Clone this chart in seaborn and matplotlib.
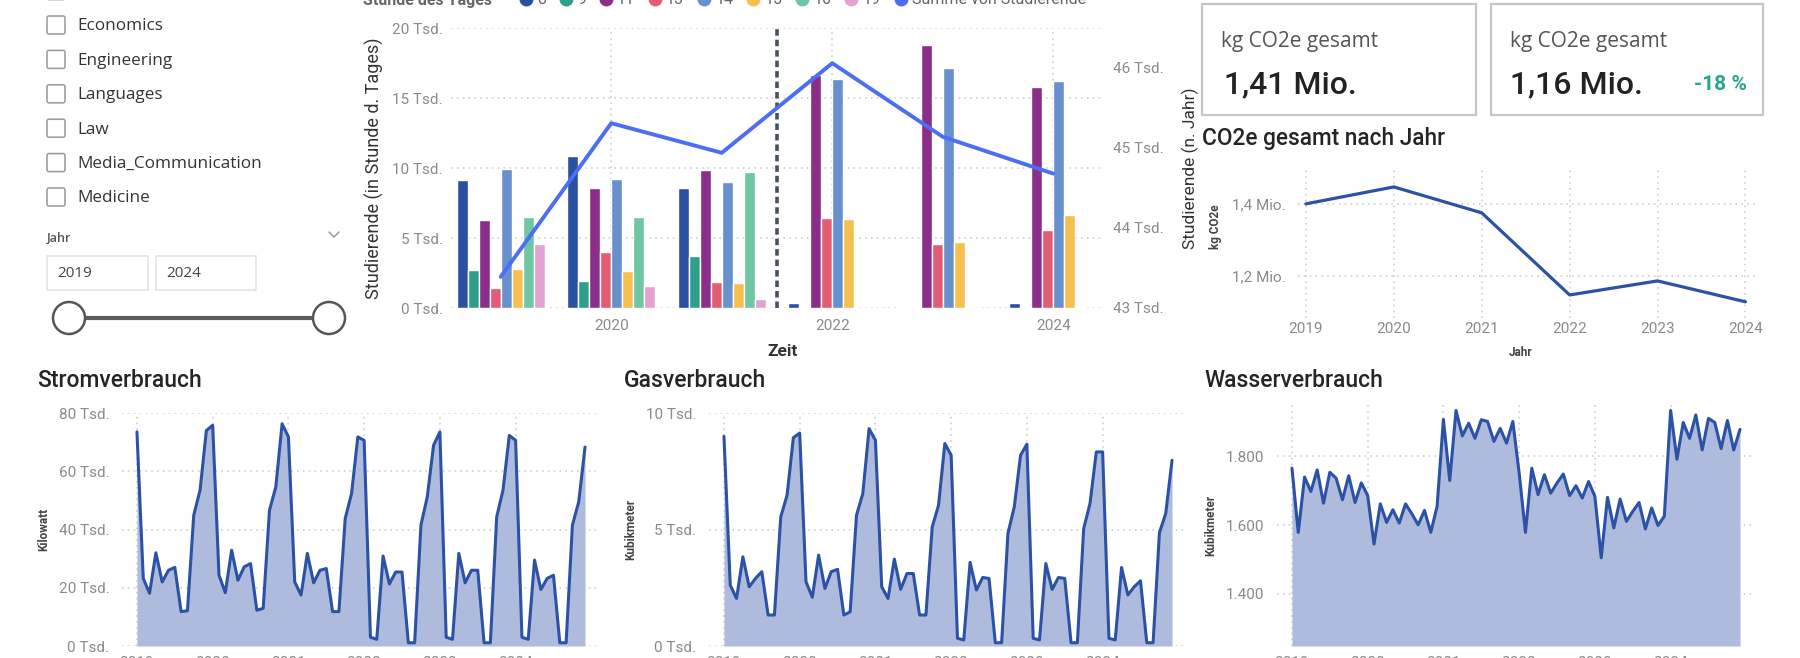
import matplotlib
matplotlib.use("Agg")
import matplotlib.pyplot as plt
import matplotlib.patches as mpatches
from matplotlib.lines import Line2D
from matplotlib.transforms import IdentityTransform
from matplotlib import font_manager
from matplotlib.ticker import FuncFormatter
import seaborn as sns
import pandas as pd
import numpy as np

# ---------------- Daten ----------------
faecher = ['Computer_Science', 'Economics', 'Engineering', 'Languages', 'Law',
           'Media_Communication', 'Medicine']
jahr_von, jahr_bis = '2019', '2024'

jahre = [2019, 2020, 2021, 2022, 2023, 2024]
stunden = ['8', '9', '11', '13', '14', '15', '16', '19']

# Studierende je Stunde des Tages (Tsd.)
stunde_08 = [9.17, 10.88, 8.55, 0.36, 0.10, 0.36]
stunde_09 = [2.74, 1.95, 3.74, 0.08, 0.05, 0.08]
stunde_11 = [6.31, 8.57, 9.83, 16.67, 18.76, 15.76]
stunde_13 = [1.43, 4.00, 1.86, 6.43, 4.60, 5.60]
stunde_14 = [9.95, 9.21, 9.00, 16.36, 17.14, 16.24]
stunde_15 = [2.79, 2.67, 1.79, 6.36, 4.69, 6.62]
stunde_16 = [6.50, 6.50, 9.71, 0.00, 0.10, 0.10]
stunde_19 = [4.57, 1.60, 0.64, 0.00, 0.00, 0.00]

# Summe Studierende pro Jahr (Tsd.)
studierende_jahr = [43.39, 45.31, 44.94, 46.06, 45.14, 44.68]

# CO2e gesamt (Mio. kg)
co2_jahr = [1.400, 1.447, 1.375, 1.147, 1.186, 1.128]
kpi_links, kpi_rechts, kpi_delta = '1,41 Mio.', '1,16 Mio.', '-18 %'

# Monatswerte Jan 2019 - Dez 2024
strom = [73.5, 23.2, 18.1, 32.0, 22.0, 26.0, 27.0, 11.8, 12.1, 44.9, 53.5, 74.0,
         75.8, 24.3, 18.3, 32.9, 22.6, 27.2, 28.3, 12.3, 12.9, 46.6, 54.6, 76.3,
         71.8, 22.0, 17.5, 31.8, 21.7, 26.0, 26.6, 11.8, 11.8, 43.8, 52.3, 71.8,
         70.6, 3.0, 2.3, 30.9, 21.3, 25.4, 25.4, 1.1, 1.1, 41.5, 51.2, 68.9,
         73.5, 3.0, 2.3, 31.8, 21.7, 26.0, 26.0, 1.1, 1.1, 44.3, 53.5, 72.3,
         70.6, 3.0, 2.3, 29.5, 19.4, 23.2, 24.3, 1.1, 1.1, 41.5, 49.5, 68.3]
gas = [9.00, 2.61, 2.04, 3.83, 2.54, 2.90, 3.19, 1.33, 1.33, 5.54, 6.47, 8.94,
       9.14, 2.76, 2.09, 3.90, 2.47, 3.19, 3.29, 1.33, 1.47, 5.61, 6.54, 9.33,
       8.83, 2.54, 2.04, 3.73, 2.43, 3.11, 3.11, 1.33, 1.33, 5.11, 6.04, 8.69,
       8.19, 0.33, 0.26, 3.59, 2.40, 2.94, 2.90, 0.14, 0.14, 4.83, 5.97, 8.19,
       8.66, 0.33, 0.26, 3.54, 2.43, 2.94, 2.90, 0.14, 0.14, 5.04, 6.11, 8.33,
       8.33, 0.33, 0.26, 3.37, 2.19, 2.54, 2.80, 0.14, 0.14, 4.86, 5.69, 7.97]
wasser = [1766, 1579, 1740, 1698, 1761, 1664, 1754, 1737, 1674, 1744, 1666, 1723,
          1686, 1545, 1662, 1608, 1645, 1606, 1662, 1633, 1601, 1643, 1579, 1655,
          1908, 1730, 1934, 1860, 1897, 1853, 1907, 1902, 1844, 1882, 1839, 1902,
          1752, 1579, 1766, 1689, 1747, 1693, 1723, 1749, 1686, 1715, 1679, 1727,
          1684, 1505, 1681, 1592, 1676, 1611, 1640, 1666, 1589, 1650, 1599, 1626,
          1934, 1792, 1899, 1853, 1921, 1819, 1911, 1899, 1823, 1905, 1819, 1879]
monate = pd.date_range('2019-01-01', '2024-12-01', freq='MS')

# ---------------- Stil ----------------
sns.set_theme(style='white')
verfuegbar = {f.name for f in font_manager.fontManager.ttflist}


def waehle(*namen):
    for n in namen:
        if n in verfuegbar:
            return n
    return 'DejaVu Sans'


SCHMAL = waehle('Liberation Sans Narrow', 'Roboto')
TITEL = waehle('Roboto', 'Lato')
UI = waehle('Open Sans', 'Noto Sans')
plt.rcParams['font.family'] = [SCHMAL, 'DejaVu Sans']

farben_stunden = ['#2b50a0', '#2e9f8a', '#8b2e88', '#e25c74',
                  '#6790cc', '#f6c050', '#6ec6a2', '#e3a2d2']
linie_summe = '#4c6ef5'
linie = '#2c52a6'
fuellung = '#aebbdd'
grau_tick = '#8a8a8a'
raster = dict(color='#d0d0d0', ls=(0, (1, 2.5)), lw=1.2)

W, H = 1800, 658
PIX = IdentityTransform()
fig = plt.figure(figsize=(W / 100, H / 100), dpi=100)
fig.patch.set_facecolor('white')


def achse(l, t, r, b):
    return fig.add_axes([l / W, 1 - b / H, (r - l) / W, (b - t) / H])


def text(x, y, s, **kw):
    kw.setdefault('va', 'center')
    return fig.text(x / W, 1 - y / H, s, **kw)


def kasten(x0, y0, x1, y1, **kw):
    fig.add_artist(mpatches.FancyBboxPatch((x0, H - y1), x1 - x0, y1 - y0,
                                           transform=PIX, **kw))


def ohne_rahmen(ax):
    for s in ax.spines.values():
        s.set_visible(False)
    ax.tick_params(length=0, colors=grau_tick, labelsize=11)


tsd = FuncFormatter(lambda v, p: f'{v:.0f} Tsd.')

# ---------------- Slicer links ----------------
for i, fach in enumerate(faecher):
    y = 25 + (i - 1) * 34.4
    kasten(47, y - 9, 65, y + 9, boxstyle='round,pad=0,rounding_size=2',
           fc='white', ec='#a0a0a0', lw=1.2)
    text(77, y + 1.5, fach, fontsize=12.3, color='#333333', family=UI)

text(47, 238, 'Jahr', fontsize=9, color='#555555', family=UI, fontweight='semibold')
fig.add_artist(Line2D([329, 334, 339], [H - 232, H - 237, H - 232], transform=PIX,
                      color='#9a9a9a', lw=1.1))
for x0, x1, s in [(47, 148, jahr_von), (156, 256, jahr_bis)]:
    kasten(x0, 256, x1, 290, boxstyle='square,pad=0', fc='white', ec='#e4e4e4', lw=1.2)
    text(x0 + 10, 274, s, fontsize=11, color='#444444', family=UI)
fig.add_artist(Line2D([85, 313], [H - 318, H - 318], transform=PIX,
                      color='#5c5c5c', lw=3, zorder=1))
for cx in (69, 329):
    fig.add_artist(mpatches.Circle((cx, H - 318), 16, transform=PIX, fc='white',
                                   ec='#555555', lw=1.8, zorder=2))

# ---------------- Balken: Studierende je Stunde ----------------
reihen = [stunde_08, stunde_09, stunde_11, stunde_13,
          stunde_14, stunde_15, stunde_16, stunde_19]
df_bar = pd.DataFrame([(j, s, v) for s, r in zip(stunden, reihen)
                       for j, v in zip(jahre, r)],
                      columns=['Jahr', 'Stunde', 'Wert'])

ax = achse(451, 28, 1103, 308)
sns.barplot(data=df_bar, x='Jahr', y='Wert', hue='Stunde', hue_order=stunden,
            palette=farben_stunden, native_scale=True, width=0.8, gap=0,
            errorbar=None, saturation=1, legend=False, ax=ax)
ax.set_xlim(2018.55, 2024.45)
ax.set_ylim(0, 20)
ax.set_yticks([0, 5, 10, 15, 20])
ax.yaxis.set_major_formatter(tsd)
ax.set_xticks([2020, 2022, 2024])
ax.set_xticklabels(['2020', '2022', '2024'])
ax.grid(True, **raster)
ax.set_axisbelow(True)
ohne_rahmen(ax)
ax.tick_params(axis='y', pad=6)
ax.tick_params(axis='x', pad=8)
ax.axvline(2021.5, color='#465066', ls=(0, (1.8, 1.1)), lw=2.6, zorder=5)
ax.set_ylabel('Studierende (in Stunde d. Tages)', fontsize=13, color='#333333')
ax.yaxis.set_label_coords(-0.103, 0.5)
ax.set_xlabel('Zeit', fontsize=12.5, color='#333333', fontweight='bold')
ax.xaxis.set_label_coords(0.509, -0.13)

ax2 = ax.twinx()
sns.lineplot(x=jahre, y=studierende_jahr, ax=ax2, color=linie_summe, lw=2.8)
ax2.set_ylim(43, 46.5)
ax2.set_yticks([43, 44, 45, 46])
ax2.yaxis.set_major_formatter(tsd)
ohne_rahmen(ax2)
ax2.tick_params(axis='y', pad=7)
ax2.set_ylabel('Studierende (n. Jahr)', fontsize=12.5, color='#333333')
ax2.yaxis.set_label_coords(1.121, 0.5)

# Legende (oben abgeschnitten wie im Bericht)
text(363, 0, 'Stunde des Tages', fontsize=11.5, color='#666666', fontweight='bold')
griffe = [Line2D([], [], marker='o', ls='', ms=9, color=c) for c in farben_stunden]
griffe.append(Line2D([], [], marker='o', ls='', ms=9, color=linie_summe))
ax.legend(griffe, stunden + ['Summe von Studierende'], loc='center left',
          bbox_to_anchor=(520 / W, 1.0), bbox_transform=fig.transFigure,
          ncol=9, frameon=False, fontsize=11.5, handlelength=0.7,
          handletextpad=0.35, columnspacing=0.9, borderaxespad=0, borderpad=0,
          labelcolor='#666666')

# ---------------- KPI-Karten ----------------
for x0, x1 in [(1202, 1476), (1491, 1763)]:
    kasten(x0, 4, x1, 115, boxstyle='square,pad=0', fc='white', ec='#c6c6c6', lw=1.6)
    text(x0 + 19, 42, 'kg CO2e gesamt', fontsize=15, color='#555555', family=UI)
text(1224, 85, kpi_links, fontsize=23, color='#222222', fontweight='medium')
text(1510, 85, kpi_rechts, fontsize=23, color='#222222', fontweight='medium')
text(1747, 84, kpi_delta, fontsize=15, color='#27a58a', fontweight='bold', ha='right')

# ---------------- CO2e gesamt nach Jahr ----------------
text(1202, 138, 'CO2e gesamt nach Jahr', fontsize=16.3, color='#252525',
     family=TITEL, fontweight='medium')
axc = achse(1298, 170, 1756, 318)
sns.lineplot(x=jahre, y=co2_jahr, ax=axc, color=linie, lw=2.3)
axc.set_xlim(2018.91, 2024.12)
axc.set_ylim(1.083, 1.494)
axc.set_yticks([1.2, 1.4])
axc.yaxis.set_major_formatter(FuncFormatter(lambda v, p: f'{v:.1f} Mio.'.replace('.', ',', 1)))
axc.set_xticks(jahre)
axc.set_xticklabels([str(j) for j in jahre])
axc.grid(True, **raster)
ohne_rahmen(axc)
axc.tick_params(axis='y', pad=9)
axc.tick_params(axis='x', pad=3)
axc.set_ylabel('kg CO2e', fontsize=8.5, color='#444444', fontweight='bold')
axc.yaxis.set_label_coords(-0.166, 0.615)
axc.set_xlabel('Jahr', fontsize=8.5, color='#444444', fontweight='bold')
axc.xaxis.set_label_coords(0.487, -0.19)

# ---------------- Verbrauchs-Flaechen ----------------
x_monat = monate.year + (monate.month - 1) / 12


def flaeche(l, titel_x, titel, werte, ylim, yticks, fmt, ylabel, lab_x, oben=413):
    text(titel_x, 381, titel, fontsize=16.5, color='#252525',
         family=TITEL, fontweight='medium')
    a = achse(l, oben, l + 474, 646)
    sns.lineplot(x=x_monat, y=werte, ax=a, color=linie, lw=2.2)
    a.fill_between(x_monat, werte, ylim[0], color=fuellung, lw=0)
    a.set_xlim(2019 - 15 / 76, 2024 + 11 / 12 + 11 / 76)
    a.set_ylim(*ylim)
    a.set_yticks(yticks)
    a.yaxis.set_major_formatter(fmt)
    a.set_xticks(jahre)
    a.set_xticklabels([str(j) for j in jahre])
    a.grid(True, **raster)
    a.set_axisbelow(True)
    ohne_rahmen(a)
    a.tick_params(axis='y', pad=9)
    a.tick_params(axis='x', pad=7)
    a.set_ylabel(ylabel, fontsize=8.5, color='#444444', fontweight='bold')
    a.yaxis.set_label_coords(lab_x, 0.5)
    return a


flaeche(122, 37, 'Stromverbrauch', strom, (0, 80), [0, 20, 40, 60, 80], tsd,
        'Kilowatt', -0.152)
flaeche(709, 624, 'Gasverbrauch', gas, (0, 10), [0, 5, 10], tsd,
        'Kubikmeter', -0.152)
flaeche(1277, 1204, 'Wasserverbrauch', wasser, (1248, 1950), [1400, 1600, 1800],
        FuncFormatter(lambda v, p: f'{v:,.0f}'.replace(',', '.')), 'Kubikmeter',
        -0.127, oben=405)

fig.savefig('out.png', dpi=100, facecolor='white')
